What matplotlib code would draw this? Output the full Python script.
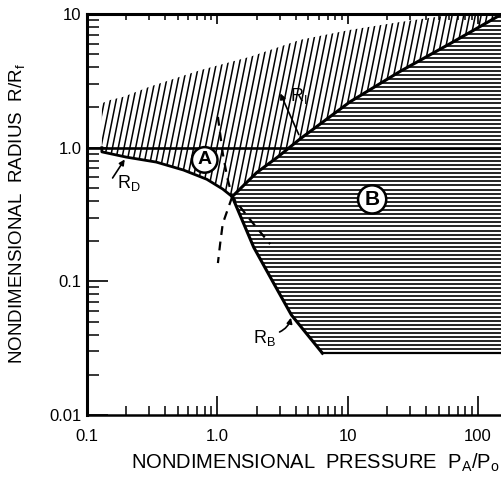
import numpy as np
import matplotlib
matplotlib.use("Agg")
import matplotlib.pyplot as plt
from matplotlib.patches import Polygon
from matplotlib.collections import LineCollection
from matplotlib.ticker import FixedLocator, NullFormatter, LogLocator

plt.rcParams['font.family'] = ['Liberation Sans', 'DejaVu Sans']
plt.rcParams['mathtext.fontset'] = 'custom'
plt.rcParams['mathtext.rm'] = 'Liberation Sans'
plt.rcParams['mathtext.it'] = 'Liberation Sans:italic'

# upper envelope of the vertically hatched zone
env_x = [0.13, 0.15, 0.19, 0.30, 0.74, 1.8, 4.3, 10.4, 25, 60, 140]
env_y = [2.15, 2.27, 2.4, 2.85, 3.8, 4.8, 6.4, 7.6, 8.7, 9.8, 10.0]

# R_D curve
rd_x = [0.13, 0.13, 0.20, 0.34, 0.55, 0.83, 1.1, 1.3]
rd_y = [1.0, 0.93, 0.85, 0.78, 0.68, 0.58, 0.49, 0.43]

# R_I curve
ri_x = [1.3, 2.0, 2.9, 4.3, 10.4, 25, 61, 150]
ri_y = [0.43, 0.65, 0.85, 1.16, 2.2, 3.7, 6.0, 9.9]

# R_B curve and floor of region B
rb_x = [1.3, 1.9, 2.7, 3.7, 6.4]
rb_y = [0.43, 0.18, 0.097, 0.056, 0.029]
floor_y = 0.029

# dashed curves
dash1_x = [1.01, 1.1, 1.19, 1.3, 1.78, 2.54]
dash1_y = [1.7, 0.91, 0.60, 0.43, 0.29, 0.19]
dash2_x = [1.3, 1.1, 1.05, 1.01]
dash2_y = [0.43, 0.27, 0.19, 0.137]

xticks = [0.1, 1.0, 10, 100]
xticklabels = ['0.1', '1.0', '10', '100']
yticks = [0.01, 0.1, 1.0, 10]
yticklabels = ['0.01', '0.1', '1.0', '10']

fig = plt.figure(figsize=(5.01, 4.86), dpi=100)
ax = fig.add_axes([87/501, 1-415/486, 414/501, 401/486])
ax.set_xscale('log')
ax.set_yscale('log')
ax.set_xlim(0.1, 150)
ax.set_ylim(0.01, 10)
xmax = ax.get_xlim()[1]
W, H = 414.0, 401.0


def hatch(xs, ys, kind, step_px, lw):
    poly = Polygon(np.column_stack([xs, ys]), closed=True, fill=False,
                   edgecolor='none', transform=ax.transData)
    ax.add_patch(poly)
    segs = []
    if kind == 'h':
        step = step_px / H
        for y in np.arange(0, 1 + step, step):
            segs.append([(0, y), (1, y)])
    else:
        k = 0.2 * H / W
        step = step_px / W
        for c in np.arange(-k - step, 1 + step, step):
            segs.append([(c, 0), (c + k, 1)])
    lc = LineCollection(segs, colors='black', linewidths=lw, transform=ax.transAxes)
    lc.set_clip_path(poly)
    ax.add_collection(lc, autolim=False)


# region A (slanted hatching)
a_x = env_x + ri_x[::-1] + rd_x[::-1]
a_y = env_y + ri_y[::-1] + rd_y[::-1]
hatch(a_x, a_y, 's', 5.8, 1.1)

# region B (horizontal hatching)
b_x = ri_x + [xmax, xmax, rb_x[-1]] + rb_x[::-1]
b_y = ri_y + [ri_y[-1], floor_y, floor_y] + rb_y[::-1]
hatch(b_x, b_y, 'h', 4.1, 1.2)

ax.axhline(1.0, color='black', lw=1.9)
ax.plot(rd_x, rd_y, color='black', lw=2.0)
ax.plot(ri_x, ri_y, color='black', lw=2.2)
ax.plot(rb_x, rb_y, color='black', lw=2.2)
ax.plot([rb_x[-1], xmax], [floor_y, floor_y], color='black', lw=1.6)
ax.plot(dash1_x, dash1_y, color='black', lw=1.6, ls=(0, (4, 3)))
ax.plot(dash2_x, dash2_y, color='black', lw=1.6, ls=(0, (4, 3)))

circ = dict(boxstyle='circle,pad=0.22', fc='white', ec='black', lw=1.8)
ax.text(0.80, 0.81, 'A', fontsize=14, fontweight='bold', ha='center', va='center', bbox=circ)
ax.text(15.4, 0.41, 'B', fontsize=15, fontweight='bold', ha='center', va='center', bbox=circ)

ax.annotate('', xy=(0.20, 0.85), xytext=(0.153, 0.57),
            arrowprops=dict(arrowstyle='-|>', lw=1.2, color='black', mutation_scale=8))
ax.text(0.17, 0.545, r'R$_\mathrm{D}$', fontsize=13, ha='left', va='center')
ax.annotate('', xy=(2.98, 2.66), xytext=(4.3, 1.2),
            arrowprops=dict(arrowstyle='-|>', lw=1.2, color='black', mutation_scale=8))
ax.text(3.6, 2.44, r'R$_\mathrm{I}$', fontsize=13, ha='left', va='center')
ax.annotate('', xy=(3.7, 0.056), xytext=(2.87, 0.041),
            arrowprops=dict(arrowstyle='-|>', lw=1.2, color='black', mutation_scale=8,
                            connectionstyle='arc3,rad=0.3'))
ax.text(1.88, 0.0378, r'R$_\mathrm{B}$', fontsize=13, ha='left', va='center')

for side in ['right', 'top']:
    ax.spines[side].set_visible(False)
ax.spines['left'].set_linewidth(2.2)
ax.spines['bottom'].set_linewidth(1.8)

ax.xaxis.set_major_locator(FixedLocator(xticks))
ax.set_xticklabels(xticklabels)
ax.yaxis.set_major_locator(FixedLocator(yticks))
ax.set_yticklabels(yticklabels)
ax.xaxis.set_minor_locator(LogLocator(base=10, subs=np.arange(2, 10)))
ax.yaxis.set_minor_locator(LogLocator(base=10, subs=np.arange(2, 10)))
ax.xaxis.set_minor_formatter(NullFormatter())
ax.yaxis.set_minor_formatter(NullFormatter())
ax.tick_params(axis='x', which='major', direction='in', length=14, width=1.2, labelsize=12, pad=10)
ax.tick_params(axis='x', which='minor', direction='in', length=6.5, width=1.1)
ax.tick_params(axis='y', which='major', direction='in', length=15, width=1.2, labelsize=12, pad=4)
ax.tick_params(axis='y', which='minor', direction='in', length=8.5, width=1.1)
ax.tick_params(top=False, right=False)

top = ax.secondary_xaxis('top')
top.spines['top'].set_linewidth(2.2)
top.xaxis.set_major_locator(FixedLocator(xticks))
top.xaxis.set_minor_locator(LogLocator(base=10, subs=np.arange(2, 10)))
top.xaxis.set_minor_formatter(NullFormatter())
top.tick_params(which='major', direction='in', length=7, width=1.2, labeltop=False)
top.tick_params(which='minor', direction='in', length=4, width=1.1)

fig.text(315/501, 1-463/486, r'NONDIMENSIONAL  PRESSURE  P$_\mathrm{A}$/P$_\mathrm{o}$',
         fontsize=14.5, ha='center', va='center')
fig.text(17/501, 1-214/486, r'NONDIMENSIONAL  RADIUS  R/R$_\mathrm{f}$',
         fontsize=13.5, ha='center', va='center', rotation=90)

fig.savefig('out.png', dpi=100)
